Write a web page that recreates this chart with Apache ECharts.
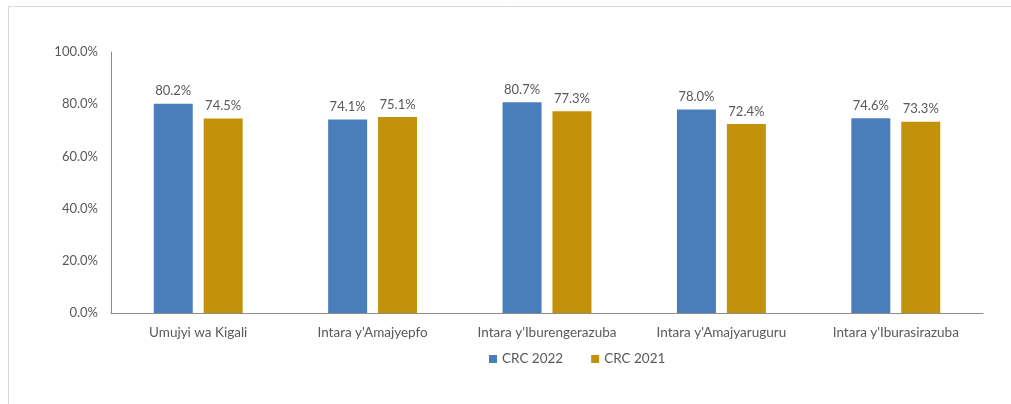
<!DOCTYPE html>
<html>
<head>
<meta charset="utf-8">
<script src="https://cdn.jsdelivr.net/npm/echarts@6/dist/echarts.min.js"></script>
<style>
  html, body { margin: 0; padding: 0; background: #fff; }
  #chart { width: 1011px; height: 404px; }
</style>
</head>
<body>
<div id="chart"></div>
<script>
// Regions and survey-year shares
const categories = ['Umujyi wa Kigali', "Intara y'Amajyepfo", "Intara y'Iburengerazuba", "Intara y'Amajyaruguru", "Intara y'Iburasirazuba"];
const crc2022 = [80.2, 74.1, 80.7, 78.0, 74.6];
const crc2021 = [74.5, 75.1, 77.3, 72.4, 73.3];
const seriesNames = ['CRC 2022', 'CRC 2021'];
const yTicks = { min: 0, max: 100, interval: 20 };

const fontFamily = '"Source Sans Pro", Lato, "Noto Sans", sans-serif';
const textColor = '#595959';

const chart = echarts.init(document.getElementById('chart'), null, { renderer: 'canvas' });

const labelCfg = {
  show: true,
  position: 'top',
  distance: 6,
  color: textColor,
  fontFamily: fontFamily,
  fontSize: 13,
  formatter: p => p.value.toFixed(1) + '%'
};

chart.setOption({
  animation: false,
  backgroundColor: '#ffffff',
  graphic: [{
    type: 'rect',
    shape: { x: 8.5, y: 6.5, width: 1020, height: 420 },
    style: { fill: 'none', stroke: '#d9d9d9', lineWidth: 1 },
    silent: true
  }],
  grid: { left: 111, right: 28, top: 52, bottom: 91, containLabel: false },
  legend: {
    data: seriesNames,
    top: 352,
    left: 489,
    padding: 0,
    itemWidth: 8,
    itemHeight: 8,
    itemGap: 28,
    icon: 'rect',
    textStyle: { color: textColor, fontFamily: fontFamily, fontSize: 13.5 }
  },
  xAxis: {
    type: 'category',
    data: categories,
    axisLine: { show: true, lineStyle: { color: '#8c8c8c', width: 1 } },
    axisTick: { show: false },
    axisLabel: { color: textColor, fontFamily: fontFamily, fontSize: 13.5, margin: 13, interval: 0 }
  },
  yAxis: {
    type: 'value',
    min: yTicks.min,
    max: yTicks.max,
    interval: yTicks.interval,
    axisLine: { show: true, lineStyle: { color: '#8c8c8c', width: 1 } },
    axisTick: { show: false },
    splitLine: { show: false },
    axisLabel: {
      color: textColor, fontFamily: fontFamily, fontSize: 13, margin: 13,
      formatter: v => v.toFixed(1) + '%'
    }
  },
  series: [
    {
      name: seriesNames[0],
      type: 'bar',
      data: crc2022,
      itemStyle: { color: '#4a7ebb' },
      barWidth: 39,
      barGap: '28%',
      label: labelCfg
    },
    {
      name: seriesNames[1],
      type: 'bar',
      data: crc2021,
      itemStyle: { color: '#c3920b' },
      barWidth: 39,
      label: labelCfg
    }
  ]
});
</script>
</body>
</html>
